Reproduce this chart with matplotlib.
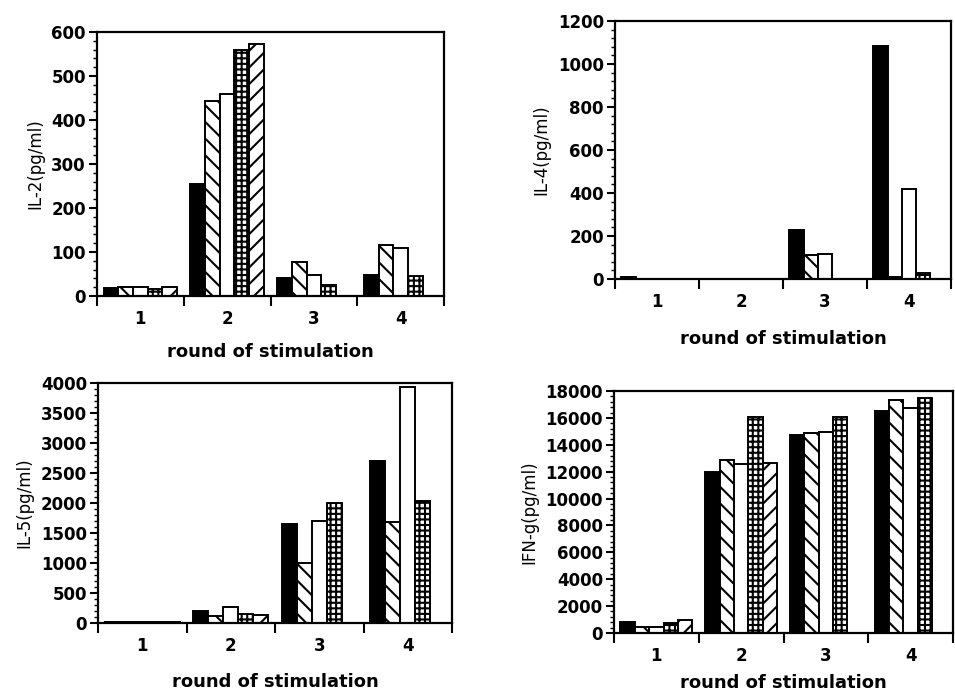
import numpy as np
import matplotlib
matplotlib.use("Agg")
import matplotlib.pyplot as plt
from matplotlib.ticker import MultipleLocator, AutoMinorLocator

plt.rcParams['font.family'] = ['DejaVu Sans']

rounds = ['1', '2', '3', '4']
# five conditions per round: black, back-hatch, white, checker, forward-hatch
il2 = [[18, 255, 42, 48],
       [20, 443, 78, 115],
       [20, 460, 48, 110],
       [15, 560, 25, 45],
       [20, 573, 0, 0]]
il4 = [[8, 0, 230, 1085],
       [0, 0, 110, 10],
       [0, 0, 115, 420],
       [0, 0, 0, 30],
       [0, 0, 0, 0]]
il5 = [[15, 200, 1650, 2700],
       [10, 120, 1000, 1680],
       [10, 260, 1700, 3930],
       [10, 150, 2000, 2030],
       [10, 140, 0, 0]]
ifng = [[800, 12000, 14750, 16500],
        [450, 12850, 14850, 17300],
        [450, 12550, 14950, 16700],
        [750, 16100, 16100, 17500],
        [950, 12650, 0, 0]]

W, H = 955, 693
panels = [
    (il2, 'IL-2(pg/ml)', 600, 100, (97, 444, 32, 296), 352),
    (il4, 'IL-4(pg/ml)', 1200, 200, (615, 951, 21, 279), 339),
    (il5, 'IL-5(pg/ml)', 4000, 500, (98, 452, 383, 623), 682),
    (ifng, 'IFN-g(pg/ml)', 18000, 2000, (614, 953, 391, 633), 683),
]

styles = [dict(fc='black', hatch=None, hlw=1.0),
          dict(fc='white', hatch='\\\\', hlw=1.5),
          dict(fc='white', hatch=None, hlw=1.0),
          dict(fc='white', hatch='+++', hlw=1.5),
          dict(fc='white', hatch='//', hlw=1.5)]

fig = plt.figure(figsize=(W / 100, H / 100), dpi=100)
bw = 0.17
x0 = np.arange(4) + 0.075

for data, ylab, ymax, step, (l, r, t, b), xly in panels:
    ax = fig.add_axes([l / W, 1 - b / H, (r - l) / W, (b - t) / H])
    for k, vals in enumerate(data):
        st = styles[k]
        with plt.rc_context({'hatch.linewidth': st['hlw']}):
            bars = ax.bar(x0 + k * bw, vals, width=bw, align='edge',
                          color=st['fc'], edgecolor='black', linewidth=1.4,
                          hatch=st['hatch'])
        for p in bars:
            if hasattr(p, 'set_hatch_linewidth'):
                p.set_hatch_linewidth(st['hlw'])
    ax.set_xlim(0, 4)
    ax.set_ylim(0, ymax)
    ax.yaxis.set_major_locator(MultipleLocator(step))
    ax.yaxis.set_minor_locator(AutoMinorLocator(5))
    ax.set_xticks([0, 1, 2, 3, 4])
    ax.set_xticklabels([])
    ax.set_xticks(np.arange(4) + 0.5, minor=True)
    ax.set_xticklabels(rounds, minor=True, fontsize=12, fontweight='bold')
    ax.tick_params(axis='x', which='major', direction='out', length=7, width=1.5)
    ax.tick_params(axis='x', which='minor', length=0, pad=10)
    ax.tick_params(axis='y', which='major', direction='out', length=6, width=1.5,
                   labelsize=12, pad=2)
    ax.tick_params(axis='y', which='minor', direction='out', length=3, width=1)
    for lab in ax.get_yticklabels():
        lab.set_fontweight('bold')
    for sp in ax.spines.values():
        sp.set_linewidth(1.6)
    ax.set_ylabel(ylab, fontsize=12, labelpad=5)
    fig.text((l + r) / 2 / W, 1 - xly / H, 'round of stimulation',
             ha='center', va='center', fontsize=13, fontweight='bold')

fig.savefig('out.png', dpi=100)
